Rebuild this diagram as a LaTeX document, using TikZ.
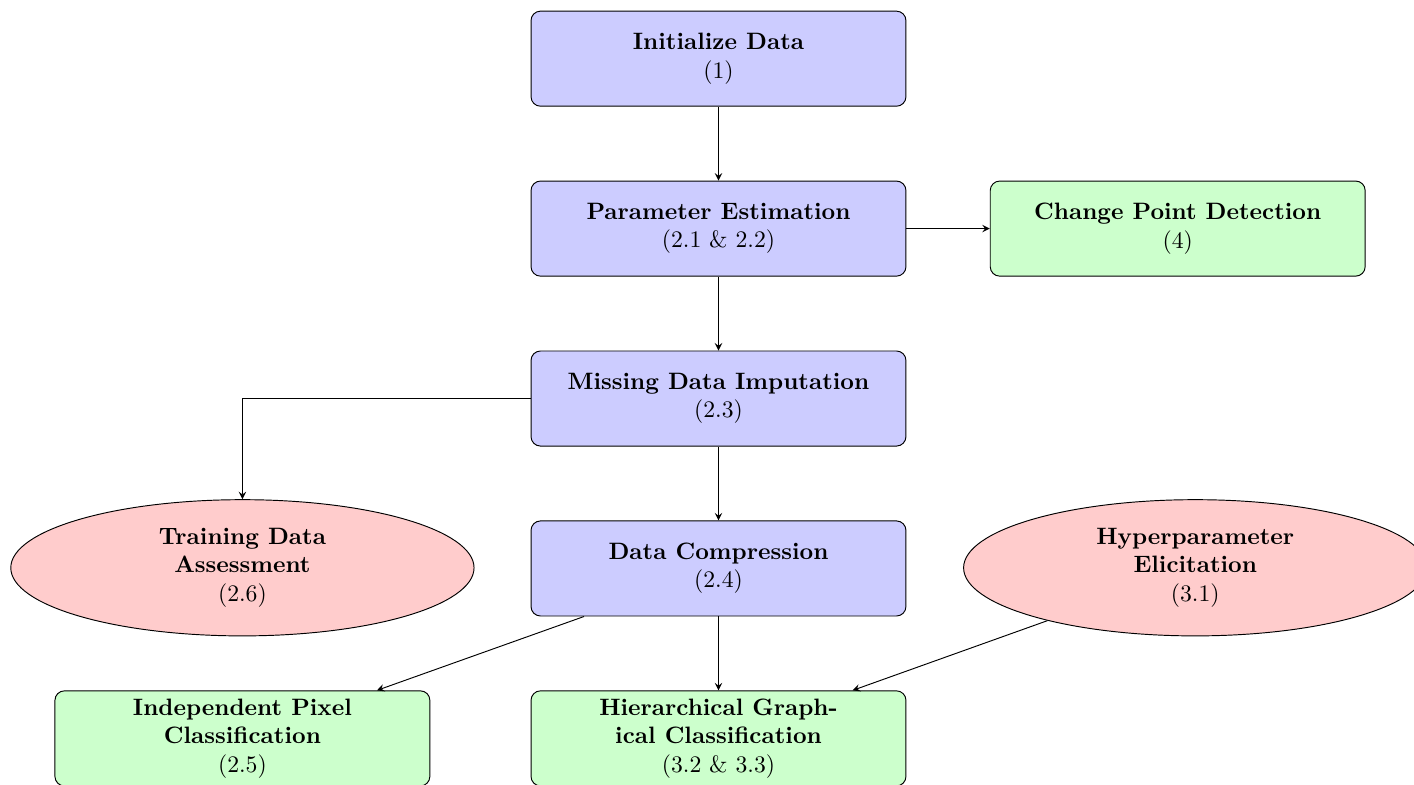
\documentclass[tikz,border=0pt]{standalone}
\usepackage{amsmath}
\usepackage{tikz}
\usetikzlibrary{shapes}
\usetikzlibrary{arrows}

\tikzset{
  procbox/.style={draw, rectangle, rounded corners, fill=blue!20, align=center,
    minimum width=5.56cm, minimum height=1.41cm, inner sep=2pt},
  outbox/.style={procbox, fill=green!20},
  priorbox/.style={draw, ellipse, fill=red!20, align=center,
    minimum width=6.87cm, minimum height=2.02cm, inner sep=0pt}
}

\begin{document}
\begin{tikzpicture}[>=stealth]
        \useasboundingbox (-10.655,-3.218) rectangle (10.314,8.42);
        \node[procbox] (init) at (0,7.55) {\textbf{Initialize Data}\\(1)};
        \node[procbox] (param) at (0,5.03) {\textbf{Parameter Estimation}\\(2.1 \& 2.2)};
        \node[outbox] (change) at (6.81,5.03) {\textbf{Change Point Detection}\\(4)};
        \node[procbox] (missing) at (0,2.51) {\textbf{Missing Data Imputation}\\(2.3)};
        \node[procbox] (compress) at (0,-0.01) {\textbf{Data Compression}\\(2.4)};
        \node[priorbox] (training) at (-7.06,0) {\textbf{Training Data}\\\textbf{Assessment}\\(2.6)};
        \node[priorbox] (hyper) at (7.07,0) {\textbf{Hyperparameter}\\\textbf{Elicitation}\\(3.1)};
        \node[outbox] (indep) at (-7.06,-2.53) {\textbf{Independent Pixel}\\\textbf{Classification}\\(2.5)};
        \node[outbox] (hier) at (0,-2.53) {\textbf{Hierarchical Graph-}\\\textbf{ical Classification}\\(3.2 \& 3.3)};
        \draw[->] (init) -- (param);
        \draw[->] (param) -- (change);
        \draw[->] (param) -- (missing);
        \draw[->] (missing.west) -| (training.north);
        \draw[->] (missing) -- (compress);
        \draw[->] (compress) -- (indep);
        \draw[->] (compress) -- (hier);
        \draw[->] (hyper) -- (hier);
\end{tikzpicture}
\end{document}
